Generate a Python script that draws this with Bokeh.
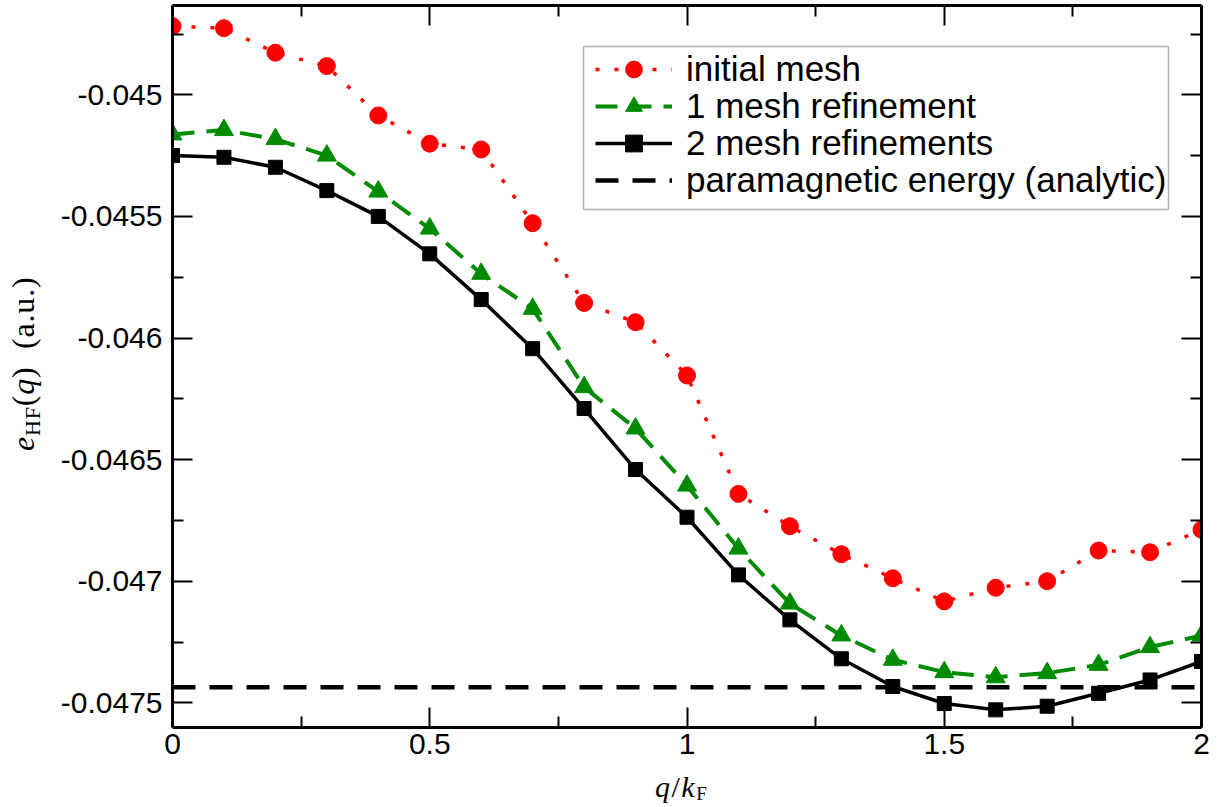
from bokeh.plotting import figure
from bokeh.models import (Range1d, LinearAxis, FixedTicker, PrintfTickFormatter,
                          Legend, LegendItem, Div, BoxAnnotation)
from bokeh.layouts import row, column
from bokeh.embed import file_html
from bokeh.resources import INLINE

# ---------------- data ----------------
q = [0.0, 0.1, 0.2, 0.3, 0.4, 0.5, 0.6, 0.7, 0.8, 0.9, 1.0,
     1.1, 1.2, 1.3, 1.4, 1.5, 1.6, 1.7, 1.8, 1.9, 2.0]
e_initial = [-0.044718, -0.044726, -0.044827, -0.044882, -0.045085, -0.045201,
             -0.045225, -0.045528, -0.045856, -0.045935, -0.046154, -0.046641,
             -0.046774, -0.046889, -0.046988, -0.047083, -0.047027, -0.047000,
             -0.046874, -0.046881, -0.046788]
e_ref1 = [-0.045163, -0.045145, -0.045182, -0.045250, -0.045398, -0.045550,
          -0.045736, -0.045880, -0.046202, -0.046372, -0.046607, -0.046866,
          -0.047092, -0.047223, -0.047323, -0.047374, -0.047395, -0.047378,
          -0.047344, -0.047271, -0.047223]
e_ref2 = [-0.045250, -0.045257, -0.045298, -0.045394, -0.045500, -0.045654,
          -0.045842, -0.046044, -0.046290, -0.046541, -0.046737, -0.046974,
          -0.047159, -0.047319, -0.047433, -0.047503, -0.047529, -0.047514,
          -0.047461, -0.047406, -0.047330]
e_para = -0.047436

series_names = ["initial mesh", "1 mesh refinement", "2 mesh refinements",
                "paramagnetic energy (analytic)"]

x_major = [0.0, 0.5, 1.0, 1.5, 2.0]
x_major_labels = ["0", "0.5", "1", "1.5", "2"]
x_minor = [0.25, 0.75, 1.25, 1.75]
y_major = [-0.045, -0.0455, -0.046, -0.0465, -0.047, -0.0475]
y_major_labels = ["-0.045", "-0.0455", "-0.046", "-0.0465", "-0.047", "-0.0475"]
y_minor = [-0.04475, -0.04525, -0.04575, -0.04625, -0.04675, -0.04725]

# ---------------- geometry ----------------
YLAB_W = 50                 # width of the y-title strip
FIG_W, FIG_H = 1164, 770
XLAB_H = 37
FR_L, FR_R, FR_T, FR_B = 122, 1151, 5, 727    # frame inside the figure (px)
PX_PER_Y = 121.6 / 0.0005
Y_TOP = -0.045 + 89.3 / PX_PER_Y
Y_BOT = Y_TOP - (FR_B - FR_T) / PX_PER_Y
PX_PER_X = (FR_R - FR_L) / 2.0

def fx(px):   # page px -> data x
    return (px - YLAB_W - FR_L) / PX_PER_X

def fy(py):   # page px (from top) -> data y
    return Y_TOP - (py - FR_T) / PX_PER_Y

p = figure(width=FIG_W, height=FIG_H, x_range=Range1d(0.0, 2.0),
           y_range=Range1d(Y_BOT, Y_TOP),
           output_backend="svg", toolbar_location=None,
           min_border_left=FR_L, min_border_right=FIG_W - FR_R,
           min_border_top=FR_T, min_border_bottom=FIG_H - FR_B)
p.background_fill_color = "white"
p.border_fill_color = "white"
p.outline_line_color = None
p.xgrid.visible = False
p.ygrid.visible = False

bottom_ax = p.below[0]
left_ax = p.left[0]
top_ax = LinearAxis()
right_ax = LinearAxis()
p.add_layout(top_ax, "above")
p.add_layout(right_ax, "right")

def style_axis(ax, ticks, minor, labels, show):
    ax.ticker = FixedTicker(ticks=ticks, minor_ticks=minor)
    ax.axis_line_width = 3
    ax.axis_line_color = "black"
    ax.major_tick_in = 20
    ax.major_tick_out = 0
    ax.minor_tick_in = 11
    ax.minor_tick_out = 0
    ax.major_tick_line_width = 2
    ax.minor_tick_line_width = 2
    ax.major_tick_line_color = "black"
    ax.minor_tick_line_color = "black"
    ax.formatter = PrintfTickFormatter(format="%g")
    ax.major_label_overrides = {t: s for t, s in zip(ticks, labels)}
    if show:
        ax.major_label_text_font = "Liberation Sans"
        ax.major_label_text_font_size = "30px"
        ax.major_label_text_color = "black"
    else:
        ax.major_label_text_font_size = "1px"
        ax.major_label_text_alpha = 0
        ax.major_label_standoff = 0

style_axis(bottom_ax, x_major, x_minor, x_major_labels, True)
bottom_ax.major_label_standoff = 6
style_axis(top_ax, x_major, x_minor, x_major_labels, False)
style_axis(left_ax, y_major, y_minor, y_major_labels, True)
left_ax.major_label_standoff = 10
style_axis(right_ax, y_major, y_minor, y_major_labels, False)

RED = "#ff0000"
GREEN = "#008b00"

para = p.line([q[0], q[-1]], [e_para, e_para], line_color="black", line_width=4.5,
              line_dash="23 14")

l1 = p.line(q, e_initial, line_color=RED, line_width=3.5, line_dash="4 15")
s1 = p.scatter(q, e_initial, marker="circle", size=17, fill_color=RED, line_color=RED)
l2 = p.line(q, e_ref1, line_color=GREEN, line_width=4, line_dash="22 12")
s2 = p.scatter(q, e_ref1, marker="triangle", size=19, fill_color=GREEN, line_color=GREEN)
l3 = p.line(q, e_ref2, line_color="black", line_width=3.5)
s3 = p.scatter(q, e_ref2, marker="square", size=14, fill_color="black", line_color="black")

# ---------------- legend: one framed box, four rows at a tight pitch ----------------
legend_box = BoxAnnotation(left=fx(583), right=fx(1168), top=fy(46), bottom=fy(209),
                           fill_color="white", fill_alpha=1.0,
                           line_color="black", line_width=1.5)
p.add_layout(legend_box)

ROW_H = 42
row_centres = [69, 106, 143, 180]          # page px of each legend row
row_renderers = [[l1, s1], [l2, s2], [l3, s3], [para]]
for name, rends, c in zip(series_names, row_renderers, row_centres):
    lg = Legend(items=[LegendItem(label=name, renderers=rends)],
                location=(423, FR_B - c - ROW_H // 2))
    lg.label_text_font = "Liberation Sans"
    lg.label_text_font_size = "35px"
    lg.label_text_color = "black"
    lg.label_height = ROW_H
    lg.glyph_height = ROW_H
    lg.glyph_width = 77
    lg.label_standoff = 14
    lg.padding = 0
    lg.spacing = 0
    lg.margin = 0
    lg.border_line_color = None
    lg.background_fill_alpha = 0.0
    p.add_layout(lg, "center")

# ---------------- axis titles as HTML text ----------------
serif = "font-family:'Liberation Serif',serif; color:black; white-space:nowrap;"
y_title = Div(
    text=(f'<div style="{serif} display:block; width:max-content; position:relative; '
          'left:7px; top:451px; font-size:32px; line-height:32px; letter-spacing:0.8px; '
          'transform:rotate(-90deg); transform-origin:0 0;">'
          '<i>e</i><span style="font-size:22px; position:relative; top:6px;">HF</span>'
          '(<i>q</i>)&nbsp;&nbsp;(a.u.)</div>'),
    width=YLAB_W, height=FIG_H + XLAB_H, margin=0)
x_title = Div(
    text=(f'<div style="{serif} display:block; width:max-content; position:relative; '
          'left:605px; top:2px; font-size:30px; line-height:30px; letter-spacing:1.5px;">'
          '<i>q</i>/<i>k</i><span style="font-size:19px; position:relative; top:3px;">F</span>'
          '</div>'),
    width=FIG_W, height=XLAB_H, margin=0)

layout = row(y_title, column(p, x_title, spacing=0), spacing=0)

open("out.html", "w").write(file_html(layout, INLINE))
